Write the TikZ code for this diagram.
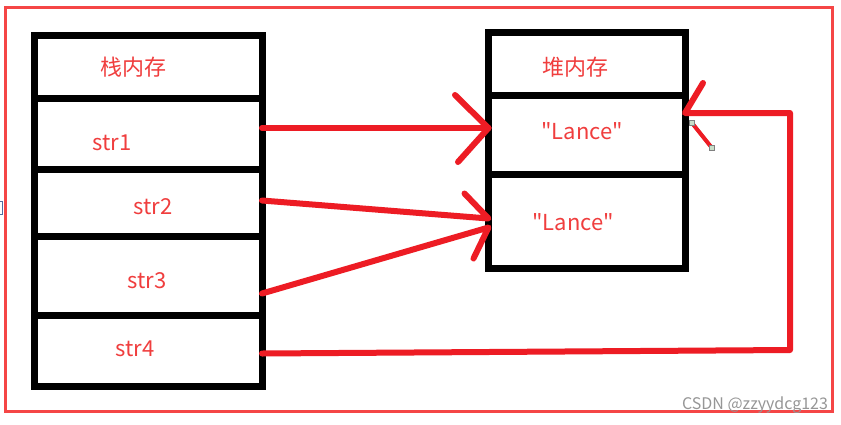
\documentclass[tikz,border=0pt]{standalone}
\usepackage{fontspec}
\newfontfamily\cjk{Noto Sans CJK SC}
\definecolor{arrowred}{RGB}{237,28,36}
\definecolor{framered}{RGB}{245,70,70}
\definecolor{lblred}{RGB}{240,62,62}
\definecolor{wmgray}{RGB}{150,150,150}
\definecolor{handle}{RGB}{200,222,200}
\begin{document}
\begin{tikzpicture}[x=1pt,y=-1pt,
  cell/.style={draw=black, line width=7pt, rectangle, inner sep=0pt, outer sep=0pt},
  scell/.style={cell, minimum width=227.5pt},
  hcell/.style={cell, minimum width=196.5pt},
  lbl/.style={text=lblred, font=\cjk\fontsize{22}{26}\selectfont, inner sep=0pt},
  redline/.style={draw=arrowred, line width=6pt, line cap=round, line join=round},
  hnd/.style={draw=gray, fill=handle, line width=0.6pt, minimum size=5pt, inner sep=0pt, rectangle}]
\fill[white] (0,0) rectangle (841,424);
\useasboundingbox (0,0) rectangle (841,424);
% outer frame
\draw[framered, line width=3pt] (5,7) rectangle (832,411);
\draw[draw={rgb,255:red,80;green,110;blue,160}, line width=0.8pt] (-1,201) rectangle (2,214);
% stack
\node[scell, minimum height=62.5pt] (s0) at (148.25,66.75) {};
\node[scell, minimum height=71pt] (s1) at (148.25,133.5) {};
\node[scell, minimum height=67pt] (s2) at (148.25,202.5) {};
\node[scell, minimum height=79pt] (s3) at (148.25,275.5) {};
\node[scell, minimum height=71pt] (s4) at (148.25,350.5) {};
\node[lbl] (t0) at (133,67) {栈内存};
\node[lbl] (t1) at (112,143) {str1};
\node[lbl] (t2) at (153,207) {str2};
\node[lbl] (t3) at (147,281) {str3};
\node[lbl] (t4) at (135,349) {str4};
% heap
\node[hcell, minimum height=63.5pt] (h0) at (586.75,63.75) {};
\node[hcell, minimum height=79pt] (h1) at (586.75,135) {};
\node[hcell, minimum height=94pt] (h2) at (586.75,221.5) {};
\node[lbl] (u0) at (575,67) {堆内存};
\node[lbl] (u1) at (582,131) {"Lance"};
\node[lbl] (u2) at (573,222) {"Lance"};
% arrow 1
\coordinate (a1s) at ([yshift=5.5pt]s1.east);
\coordinate (a1t) at ([yshift=7pt]h1.west);
\draw[redline] (a1s) -- (a1t);
\draw[redline] ([shift={(-33.5,-33)}]a1t) -- (a1t) -- ([shift={(-30.5,34)}]a1t);
% arrow 2
\coordinate (a2s) at ([yshift=2pt]s2.east);
\coordinate (a2t) at ([yshift=3pt]h2.west);
\draw[redline] (a2s) -- (a2t) -- ([shift={(-24,-25)}]a2t);
% arrow 3
\coordinate (a3s) at ([yshift=-18pt]s3.east);
\coordinate (a3t) at ([yshift=-6pt]h2.west);
\draw[redline] (a3s) -- (a3t) -- ([shift={(-15,31)}]a3t);
% arrow 4
\coordinate (a4s) at ([yshift=-3pt]s4.east);
\coordinate (a4t) at ([yshift=22pt]h1.east);
\coordinate (c1) at (790,350);
\coordinate (c2) at (790,113);
\draw[redline] (a4s) -- (c1) -- (c2) -- (a4t) -- ([shift={(18,-30)}]a4t);
\draw[draw=arrowred, line width=4pt] ([shift={(7,10)}]a4t) -- ([shift={(27,35)}]a4t);
\node[hnd] (k1) at ([shift={(7,10)}]a4t) {};
\node[hnd] (k2) at ([shift={(27,35)}]a4t) {};
% watermark
\node[text=wmgray, font=\cjk\fontsize{16}{19}\selectfont, inner sep=0pt] (wm) at (755,405) {CSDN @zzyydcg123};
\end{tikzpicture}
\end{document}
